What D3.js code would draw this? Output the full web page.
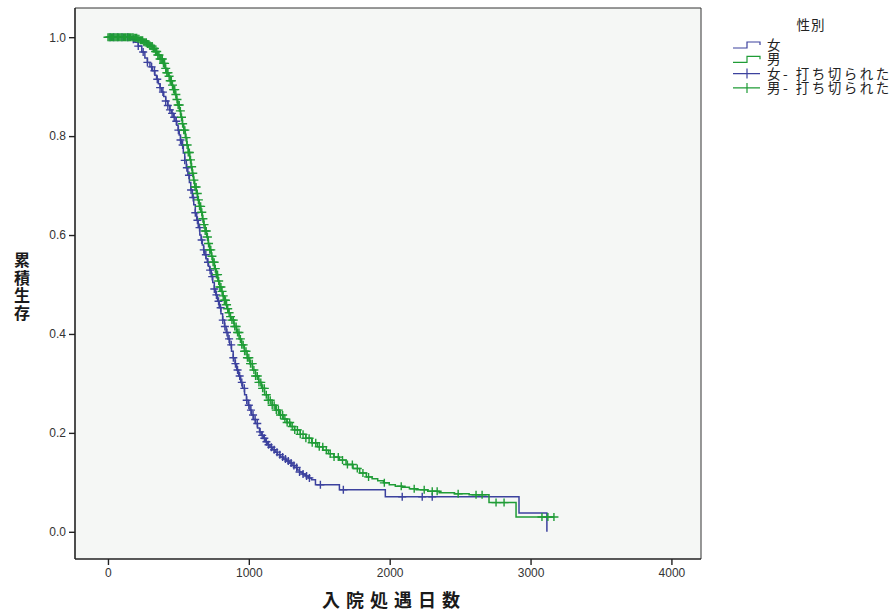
<!DOCTYPE html>
<html><head><meta charset="utf-8">
<script src="https://cdn.jsdelivr.net/npm/d3@7"></script>
<style>body{margin:0;background:#fff}svg{display:block}</style>
</head><body>
<svg id="c" width="893" height="611"></svg>
<script>
// ---- data ----
const xTicks = [0, 1000, 2000, 3000, 4000];
const yTicks = [0.0, 0.2, 0.4, 0.6, 0.8, 1.0];
const groups = ["女", "男"];
const legendTitle = "性別";
const censorLabel = "- 打ち切られた";
const xTitle = "入院処遇日数";
const yTitle = "累積生存";

const femaleTimes = [0,120,155,191,215,240,262,280,298,316,333,345,358,370,382,396,410,425,439,452,464,476,489,498,506,515,524,535,545,556,567,578,588,599,609,620,630,641,652,661,670,679,687,696,705,714,722,733,744,755,765,778,790,802,814,827,839,852,864,877,889,902,914,928,942,956,970,983,995,1008,1020,1034,1048,1062,1076,1090,1105,1119,1133,1150,1170,1187,1204,1225,1246,1268,1289,1307,1325,1343,1360,1380,1400,1422,1445,1473,1643,1969,2918,3116];
const femaleSurv  = [1.0,1.0,0.996,0.990,0.982,0.970,0.958,0.949,0.940,0.932,0.923,0.915,0.906,0.898,0.889,0.880,0.871,0.862,0.853,0.846,0.838,0.830,0.822,0.812,0.802,0.792,0.782,0.766,0.751,0.736,0.721,0.706,0.691,0.676,0.661,0.645,0.630,0.615,0.600,0.590,0.580,0.570,0.560,0.552,0.545,0.537,0.529,0.516,0.504,0.491,0.479,0.466,0.453,0.441,0.428,0.415,0.403,0.390,0.378,0.365,0.352,0.340,0.327,0.315,0.302,0.290,0.277,0.266,0.256,0.246,0.236,0.227,0.219,0.210,0.202,0.195,0.189,0.182,0.176,0.171,0.166,0.161,0.156,0.151,0.147,0.143,0.139,0.134,0.130,0.125,0.121,0.117,0.113,0.109,0.105,0.095,0.085,0.071,0.038,0.0];
const femaleCensor = [15,40,70,100,140,180,215,250,280,310,330,350,370,390,410,425,440,455,470,485,500,515,530,545,560,575,590,605,620,635,650,665,680,695,710,725,740,755,770,785,800,815,830,845,860,875,890,905,920,935,950,968,985,1000,1015,1030,1045,1060,1080,1095,1110,1125,1140,1160,1180,1200,1220,1240,1260,1280,1300,1320,1340,1360,1385,1410,1430,1508,1671,2089,2231,2302];

const maleTimes = [0,156,180,205,227,250,275,297,315,335,354,370,388,404,418,430,442,453,464,475,486,496,507,517,528,538,549,560,570,581,590,598,607,616,627,637,648,659,670,680,690,701,712,722,733,744,756,768,780,793,804,815,826,836,847,857,868,878,895,913,931,949,968,988,1007,1027,1048,1070,1091,1112,1138,1165,1190,1218,1244,1270,1297,1324,1365,1405,1446,1487,1526,1565,1604,1643,1690,1740,1787,1834,1875,1915,1956,1997,2040,2090,2140,2188,2270,2351,2460,2564,2705,2897,3166];
const maleSurv  = [1.0,1.0,0.999,0.997,0.994,0.990,0.986,0.982,0.977,0.971,0.964,0.956,0.947,0.937,0.928,0.921,0.912,0.903,0.894,0.884,0.874,0.863,0.851,0.838,0.825,0.812,0.797,0.782,0.767,0.752,0.738,0.725,0.711,0.697,0.684,0.671,0.658,0.646,0.633,0.621,0.608,0.596,0.583,0.570,0.557,0.545,0.532,0.520,0.507,0.495,0.486,0.477,0.468,0.459,0.451,0.443,0.435,0.428,0.415,0.403,0.390,0.378,0.365,0.352,0.340,0.327,0.315,0.302,0.290,0.277,0.266,0.256,0.246,0.236,0.228,0.221,0.213,0.206,0.197,0.189,0.180,0.172,0.165,0.158,0.151,0.145,0.136,0.128,0.119,0.111,0.107,0.103,0.099,0.095,0.092,0.090,0.087,0.085,0.082,0.079,0.077,0.075,0.059,0.030,0.030];
const maleCensor = [0,8,16,25,33,42,50,58,66,75,84,92,100,110,118,126,135,144,152,160,170,178,186,195,204,212,220,230,238,246,255,263,272,280,290,298,306,314,322,330,338,346,354,362,370,378,386,394,402,410,418,426,434,442,450,458,466,474,482,490,498,506,514,522,530,538,546,554,562,570,578,586,594,602,610,618,626,634,642,650,658,666,674,682,690,698,706,714,722,730,738,746,754,762,770,778,786,794,802,810,818,826,834,842,850,860,870,880,890,900,910,920,930,940,950,960,970,980,990,1000,1012,1024,1036,1048,1060,1072,1085,1098,1110,1124,1138,1152,1166,1180,1195,1210,1225,1240,1256,1272,1290,1308,1326,1345,1365,1385,1405,1428,1450,1475,1500,1525,1550,1578,1605,1635,1665,1700,1735,1770,1810,1850,1962,2082,2174,2245,2302,2337,2486,2613,2656,2755,2812,3081,3123,3166];

const colors = {"女": "#3c429e", "男": "#1f9c36"};

// ---- layout ----
const svg = d3.select("#c");
const L = 75, R = 701, T = 8, B = 559;
const x = d3.scaleLinear().domain([-234, 4210]).range([L, R]);
const y = d3.scaleLinear().domain([-0.055, 1.059]).range([B, T]);

svg.append("rect").attr("x", L).attr("y", T).attr("width", R - L).attr("height", B - T)
  .attr("fill", "#f5f7f5");

const series = [
  {name: "女", t: femaleTimes, s: femaleSurv, c: femaleCensor, arm: 4},
  {name: "男", t: maleTimes, s: maleSurv, c: maleCensor, arm: 4.5}
];

const line = d3.line().x(d => x(d[0])).y(d => y(d[1])).curve(d3.curveStepAfter);
function survAt(ser, t) {
  let v = ser.s[0];
  for (let i = 0; i < ser.t.length; i++) { if (ser.t[i] <= t) v = ser.s[i]; }
  return v;
}

const plot = svg.append("g");
series.forEach(ser => {
  const pts = ser.t.map((t, i) => [t, ser.s[i]]);
  plot.append("path").attr("d", line(pts)).attr("fill", "none")
    .attr("stroke", colors[ser.name]).attr("stroke-width", 1.5);
  plot.append("g").selectAll("path").data(ser.c).join("path")
    .attr("d", c => {
      const px = x(c), py = y(survAt(ser, c)), a = ser.arm;
      return `M${px},${py - 4}V${py + 4}M${px - a},${py}H${px + a}`;
    })
    .attr("stroke", colors[ser.name]).attr("stroke-width", 1.4).attr("fill", "none");
});

// frame
svg.append("path").attr("d", `M${L},${T}H${R}V${B}`).attr("fill", "none")
  .attr("stroke", "#333").attr("stroke-width", 1);

// axes
const xa = svg.append("g").attr("transform", `translate(0,${B})`)
  .call(d3.axisBottom(x).tickValues(xTicks).tickFormat(d3.format("d")).tickSize(6).tickSizeOuter(0));
const ya = svg.append("g").attr("transform", `translate(${L},0)`)
  .call(d3.axisLeft(y).tickValues(yTicks).tickFormat(d3.format(".1f")).tickSize(6).tickSizeOuter(0));
[xa, ya].forEach(a => {
  a.select(".domain").attr("stroke", "#222").attr("stroke-width", 1.6);
  a.selectAll(".tick line").attr("stroke", "#222").attr("stroke-width", 1.4);
  a.selectAll(".tick text").attr("fill", "#333").attr("font-family", "Liberation Sans, Arial, sans-serif").attr("font-size", 12);
});
xa.select(".domain").attr("d", `M${L},0H${R}`);
ya.select(".domain").attr("d", `M0,${T}V${B}`);

// axis titles
svg.append("text").attr("x", 394).attr("y", 607).attr("text-anchor", "middle")
  .attr("font-family", "Noto Sans CJK JP").attr("font-weight", "bold").attr("font-size", 18)
  .attr("letter-spacing", 6).attr("fill", "#1a1a1a").text(xTitle);
svg.append("text").attr("x", 22).attr("y", 252)
  .attr("writing-mode", "vertical-rl").style("text-orientation", "upright")
  .attr("font-family", "Noto Sans CJK JP").attr("font-weight", "bold").attr("font-size", 16)
  .attr("letter-spacing", 1.5).attr("fill", "#1a1a1a").text(yTitle);

// legend
const lg = svg.append("g").attr("font-family", "Noto Sans CJK JP").attr("font-size", 13.5).attr("fill", "#222");
lg.append("text").attr("x", 811).attr("y", 30).attr("text-anchor", "middle").attr("letter-spacing", 1).text(legendTitle);
const items = [
  {g: "女", type: "step", label: "女"},
  {g: "男", type: "step", label: "男"},
  {g: "女", type: "cross", label: "女" + censorLabel},
  {g: "男", type: "cross", label: "男" + censorLabel}
];
items.forEach((it, i) => {
  const cy = 45 + i * 14.3;
  const col = colors[it.g];
  if (it.type === "step") {
    lg.append("path").attr("d", `M733,${cy + 3}H747V${cy - 3}H760V${cy}`)
      .attr("fill", "none").attr("stroke", col).attr("stroke-width", 1.2);
  } else {
    lg.append("path").attr("d", `M733,${cy}H760M747,${cy - 5}V${cy + 5}`)
      .attr("fill", "none").attr("stroke", col).attr("stroke-width", 1.2);
  }
  lg.append("text").attr("x", 767).attr("y", cy + 5).attr("letter-spacing", 2.5).text(it.label);
});
</script>
</body></html>
